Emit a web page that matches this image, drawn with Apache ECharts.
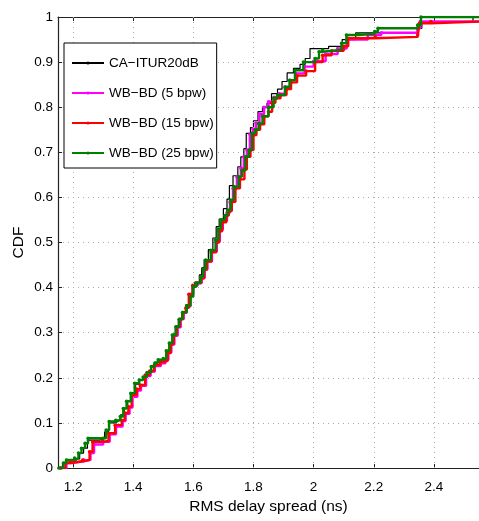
<!DOCTYPE html>
<html><head><meta charset="utf-8">
<script src="https://cdn.jsdelivr.net/npm/echarts@6/dist/echarts.min.js"></script>
<style>html,body{margin:0;padding:0;background:#fff}#c{width:479px;height:521px}</style>
</head><body><div id="c"></div>
<script>
const seriesNames = ['CA\u2212ITUR20dB', 'WB\u2212BD (5 bpw)', 'WB\u2212BD (15 bpw)', 'WB\u2212BD (25 bpw)'];
const seriesColors = ['#000000', '#ff00ff', '#ff0000', '#008000'];
const xTicks = [1.2, 1.4, 1.6, 1.8, 2.0, 2.2, 2.4];
const yTicks = [0, 0.1, 0.2, 0.3, 0.4, 0.5, 0.6, 0.7, 0.8, 0.9, 1];
const xTitle = 'RMS delay spread (ns)';
const yTitle = 'CDF';

// [RMS delay spread (ns), CDF]
const caItur = [[1.150,0],[1.165,0.011],[1.180,0.015],[1.210,0.020],[1.222,0.033],[1.235,0.044],[1.248,0.062],[1.290,0.066],[1.305,0.080],[1.318,0.100],[1.345,0.106],[1.358,0.118],[1.370,0.132],[1.382,0.148],[1.394,0.166],[1.408,0.186],[1.420,0.195],[1.432,0.202],[1.448,0.214],[1.460,0.225],[1.475,0.235],[1.500,0.240],[1.510,0.258],[1.520,0.276],[1.530,0.296],[1.540,0.314],[1.550,0.330],[1.562,0.346],[1.575,0.362],[1.585,0.383],[1.596,0.404],[1.605,0.412],[1.620,0.428],[1.628,0.444],[1.636,0.462],[1.650,0.484],[1.665,0.510],[1.676,0.535],[1.686,0.552],[1.700,0.575],[1.712,0.596],[1.720,0.626],[1.732,0.648],[1.748,0.668],[1.758,0.690],[1.768,0.708],[1.776,0.742],[1.790,0.755],[1.800,0.770],[1.815,0.790],[1.830,0.800],[1.845,0.809],[1.860,0.830],[1.880,0.840],[1.895,0.857],[1.912,0.876],[1.933,0.886],[1.955,0.895],[1.972,0.908],[1.988,0.930],[2.050,0.935],[2.095,0.950],[2.140,0.965],[2.346,0.975],[2.360,0.990],[2.530,1.000],[2.560,1.000]];
const wb5 = [[1.160,0],[1.178,0.011],[1.195,0.015],[1.236,0.018],[1.258,0.033],[1.270,0.052],[1.300,0.058],[1.322,0.075],[1.343,0.092],[1.365,0.104],[1.375,0.120],[1.388,0.134],[1.398,0.158],[1.414,0.172],[1.426,0.182],[1.443,0.204],[1.458,0.214],[1.472,0.226],[1.492,0.232],[1.507,0.240],[1.517,0.256],[1.527,0.274],[1.537,0.293],[1.548,0.312],[1.558,0.330],[1.568,0.344],[1.578,0.358],[1.590,0.385],[1.600,0.404],[1.614,0.410],[1.628,0.422],[1.638,0.440],[1.647,0.458],[1.662,0.480],[1.678,0.502],[1.688,0.528],[1.698,0.548],[1.712,0.566],[1.722,0.590],[1.732,0.620],[1.745,0.645],[1.758,0.665],[1.768,0.690],[1.778,0.705],[1.788,0.740],[1.798,0.752],[1.808,0.765],[1.820,0.785],[1.835,0.800],[1.850,0.812],[1.868,0.822],[1.885,0.830],[1.905,0.845],[1.922,0.860],[1.940,0.875],[1.970,0.890],[2.000,0.902],[2.040,0.918],[2.080,0.930],[2.110,0.950],[2.180,0.960],[2.225,0.965],[2.345,0.975],[2.355,0.990],[2.560,0.990]];
const wb15 = [[1.158,0],[1.175,0.011],[1.190,0.015],[1.232,0.018],[1.255,0.036],[1.265,0.058],[1.298,0.060],[1.318,0.077],[1.340,0.095],[1.362,0.106],[1.372,0.122],[1.384,0.136],[1.395,0.162],[1.412,0.175],[1.423,0.184],[1.440,0.206],[1.455,0.215],[1.470,0.228],[1.490,0.235],[1.505,0.238],[1.515,0.255],[1.525,0.275],[1.535,0.295],[1.545,0.313],[1.556,0.330],[1.566,0.345],[1.575,0.355],[1.585,0.385],[1.598,0.405],[1.612,0.410],[1.626,0.420],[1.636,0.440],[1.645,0.458],[1.660,0.478],[1.676,0.500],[1.686,0.525],[1.696,0.545],[1.710,0.560],[1.718,0.570],[1.728,0.590],[1.740,0.620],[1.755,0.640],[1.770,0.662],[1.778,0.690],[1.790,0.705],[1.800,0.738],[1.810,0.750],[1.822,0.762],[1.836,0.780],[1.850,0.790],[1.862,0.810],[1.873,0.820],[1.890,0.827],[1.910,0.840],[1.925,0.855],[1.945,0.870],[1.975,0.880],[2.005,0.900],[2.030,0.915],[2.060,0.925],[2.100,0.935],[2.115,0.953],[2.205,0.956],[2.346,0.960],[2.352,0.986],[2.390,0.990],[2.560,0.990]];
const wb25 = [[1.153,0],[1.168,0.011],[1.178,0.018],[1.205,0.022],[1.218,0.033],[1.228,0.044],[1.240,0.055],[1.250,0.066],[1.300,0.066],[1.310,0.084],[1.320,0.103],[1.342,0.106],[1.357,0.114],[1.367,0.132],[1.378,0.148],[1.392,0.166],[1.405,0.188],[1.420,0.195],[1.433,0.202],[1.446,0.212],[1.460,0.225],[1.472,0.233],[1.483,0.240],[1.500,0.243],[1.510,0.260],[1.520,0.277],[1.530,0.295],[1.542,0.313],[1.553,0.330],[1.564,0.345],[1.578,0.360],[1.591,0.380],[1.600,0.402],[1.610,0.410],[1.624,0.424],[1.633,0.440],[1.641,0.461],[1.658,0.483],[1.674,0.506],[1.683,0.530],[1.691,0.550],[1.705,0.560],[1.714,0.572],[1.724,0.594],[1.735,0.624],[1.751,0.646],[1.762,0.660],[1.773,0.690],[1.785,0.705],[1.795,0.742],[1.806,0.750],[1.817,0.764],[1.830,0.780],[1.850,0.800],[1.867,0.820],[1.880,0.827],[1.905,0.845],[1.920,0.860],[1.938,0.882],[1.966,0.900],[2.005,0.908],[2.018,0.923],[2.030,0.927],[2.093,0.942],[2.109,0.960],[2.150,0.963],[2.203,0.968],[2.214,0.975],[2.346,0.982],[2.357,1.000],[2.560,1.000]];
const seriesData = [caItur, wb5, wb15, wb25];

const FONT = '"Liberation Sans", Arial, sans-serif';
const fmt = v => String(+(+v).toFixed(1));

const chart = echarts.init(document.getElementById('c'), null, {renderer: 'canvas'});
const series = seriesNames.map((name, i) => {
  const s = {
    name: name,
    type: 'line',
    step: 'end',
    data: seriesData[i],
    color: seriesColors[i],
    lineStyle: {color: seriesColors[i], width: i === 0 ? 1.2 : 2.4},
    itemStyle: {color: seriesColors[i]},
    symbol: i === 0 ? 'none' : 'circle',
    symbolSize: 3.5,
    showAllSymbol: true,
    animation: false,
    silent: true,
    z: 3 + i
  };
  if (i === 0) {
    s.markLine = {
      silent: true, symbol: 'none', label: {show: false}, animation: false,
      lineStyle: {color: '#aaaaaa', type: [1, 4], width: 1},
      data: xTicks.map(v => ({xAxis: v}))
    };
  }
  return s;
});

chart.setOption({
  animation: false,
  backgroundColor: '#fff',
  grid: {left: 58, top: 17, width: 423, height: 451},
  legend: {
    data: seriesNames,
    orient: 'vertical',
    left: 64, top: 43,
    itemWidth: 32, itemHeight: 4, itemGap: 16,
    padding: [13, 3, 8, 7],
    borderColor: '#000', borderWidth: 1, backgroundColor: '#fff',
    textStyle: {fontFamily: FONT, fontSize: 13.5, lineHeight: 14, color: '#000'},
    z: 10
  },
  xAxis: [{
    type: 'value', min: 1.15, max: 2.55,
    name: xTitle, nameLocation: 'middle', nameGap: 30,
    nameTextStyle: {fontFamily: FONT, fontSize: 15.5, color: '#000'},
    axisLine: {lineStyle: {color: '#222', width: 1.2}},
    axisTick: {inside: true, length: 4, customValues: xTicks, lineStyle: {color: '#222'}},
    axisLabel: {customValues: xTicks, formatter: fmt, fontFamily: FONT, fontSize: 13.5, color: '#000', margin: 12},
    splitLine: {show: false}
  }, {
    type: 'value', min: 1.15, max: 2.55, position: 'top',
    axisLine: {lineStyle: {color: '#222', width: 1.2}},
    axisTick: {inside: true, length: 4, customValues: xTicks, lineStyle: {color: '#222'}},
    axisLabel: {show: false},
    splitLine: {show: false}
  }],
  yAxis: {
    type: 'value', min: 0, max: 1, interval: 0.1,
    name: yTitle, nameLocation: 'middle', nameGap: 31, nameMoveOverlap: false,
    nameTextStyle: {fontFamily: FONT, fontSize: 15.5, color: '#000'},
    axisLine: {show: true, lineStyle: {color: '#222', width: 1.2}},
    axisTick: {show: true, inside: true, length: 4, lineStyle: {color: '#222'}},
    axisLabel: {formatter: fmt, fontFamily: FONT, fontSize: 13.5, color: '#000', margin: 5},
    splitLine: {show: true, lineStyle: {color: '#aaaaaa', type: [1, 4], width: 1}}
  },
  series: series
});
</script>
</body></html>
